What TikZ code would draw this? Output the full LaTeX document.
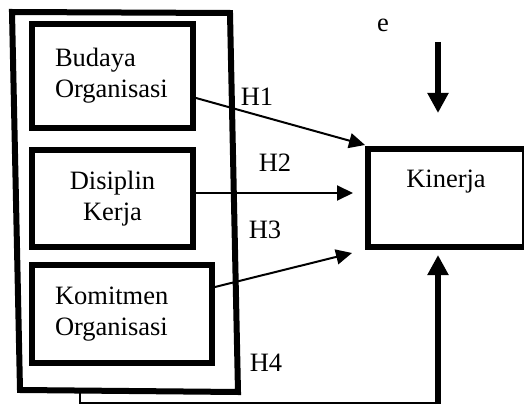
\documentclass[tikz,border=0pt]{standalone}
\usepackage{fontspec}
\setmainfont{Liberation Serif}
\usetikzlibrary{arrows.meta}
\begin{document}
\begin{tikzpicture}[x=1pt,y=1pt,
  every node/.style={font=\fontsize{26.5}{31}\selectfont},
  varbox/.style={draw, line width=6pt, inner sep=0pt, align=center},
  thinarrow/.style={line width=2pt, -{Triangle[length=16pt,width=15pt]}},
  thickarrow/.style={line width=6pt, -{Triangle[length=20pt,width=20pt]}},
  lbl/.style={inner sep=0pt}]
\useasboundingbox (0,0) rectangle (525,405);
% outer box
\coordinate (oTL) at (12,393);
\coordinate (oTR) at (230,392);
\coordinate (oBR) at (238,13);
\coordinate (oBL) at (20,15);
\draw[line width=6pt, line join=miter] (oTL) -- (oTR) -- (oBR) -- (oBL) -- cycle;
% variable boxes
\node[varbox, minimum height=104pt, inner xsep=23pt, text width=115pt, align=left] (b1) at (112.5,329) {Budaya\\Organisasi};
\node[varbox, minimum width=161pt, minimum height=97pt] (b2) at (112.5,206.5) {Disiplin\\Kerja};
\node[varbox, minimum height=98pt, inner xsep=23pt, text width=134pt, align=left] (b3) at (122,91) {Komitmen\\Organisasi};
% Kinerja
\node[draw, line width=2pt, minimum width=154pt, minimum height=96pt, inner sep=0pt,
      text height=18pt, text depth=38pt] (k) at (446,207) {Kinerja};
\draw[line width=6pt, line join=miter] (k.north east) -- (k.north west) -- (k.south west) -- (k.south east);
% error term
\node[lbl] (e) at (383,380) {e};
\coordinate (e1) at (438,363);
\coordinate (e2) at (438,292);
\draw[thickarrow] (e1) -- (e2);
% hypothesis arrows
\coordinate (t1) at (365,260);
\coordinate (t2) at (353,212);
\coordinate (t3) at (352,152);
\draw[thinarrow] ([yshift=-22pt]b1.east) -- (t1);
\draw[thinarrow] ([yshift=5.5pt]b2.east) -- (t2);
\draw[thinarrow] ([yshift=27pt]b3.east) -- (t3);
% H4
\coordinate (h4a) at (80,14);
\coordinate (h4b) at (438,2);
\coordinate (h4c) at (438,150);
\draw[line width=2pt] (h4a) |- (h4b);
\draw[thickarrow] ([yshift=-1pt]h4b) -- (h4c);
% labels
\node[lbl] (H1) at (257,308) {H1};
\node[lbl] (H2) at (275,242) {H2};
\node[lbl] (H3) at (265,175) {H3};
\node[lbl] (H4) at (266,42) {H4};
\end{tikzpicture}
\end{document}
